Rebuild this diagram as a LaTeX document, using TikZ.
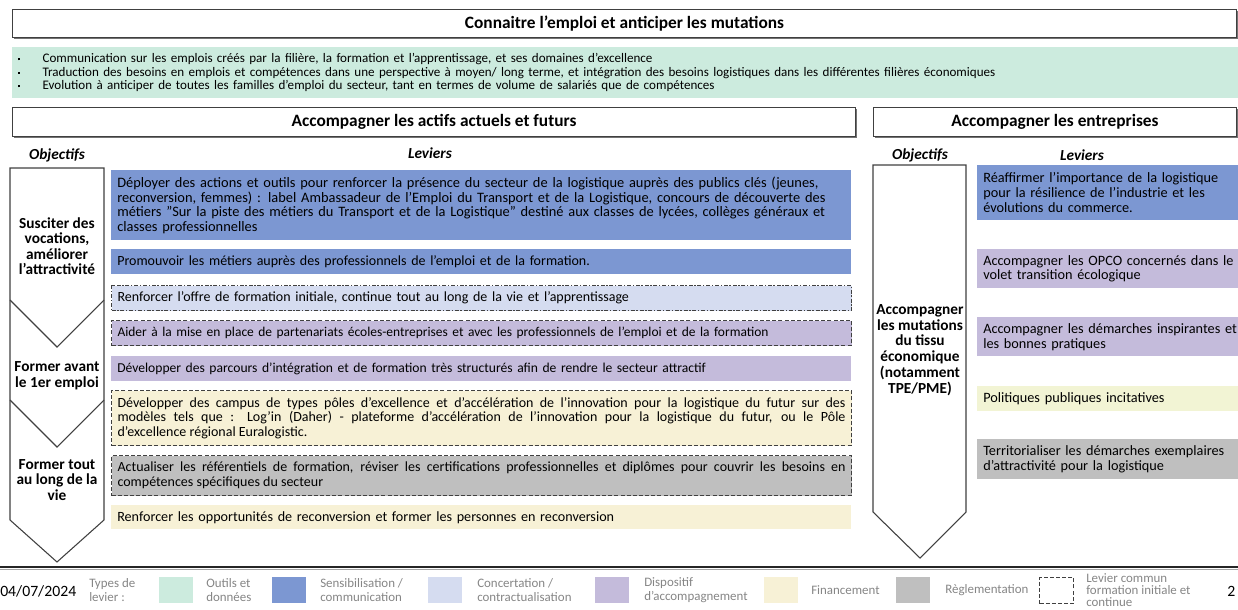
\documentclass[tikz,border=0pt]{standalone}
\usepackage{fontspec}
\setmainfont{Carlito}
\definecolor{cgreen}{HTML}{CCEBDE}
\definecolor{cblue}{HTML}{7C97D2}
\definecolor{clight}{HTML}{D5DCF0}
\definecolor{cpurple}{HTML}{C4BBDB}
\definecolor{cbeige}{HTML}{F7F1D6}
\definecolor{cbeigeb}{HTML}{F2F4D4}
\definecolor{cgrey}{HTML}{BFBFBF}
\definecolor{cline}{HTML}{404040}
\definecolor{clegtext}{HTML}{858585}
\begin{document}
\begin{tikzpicture}[x=0.75pt,y=-0.75pt,
  hdr/.style={draw=cline, line width=0.8pt, fill=white, inner sep=0pt, anchor=north west,
    font=\fontsize{13}{15}\selectfont\bfseries},
  shadowbox/.style={fill=black!55},
  lever/.style={anchor=north west, inner xsep=4.5pt, inner ysep=0pt, text width=546pt,
    minimum width=555pt, align=left, font=\fontsize{10.5}{11}\selectfont},
  rlever/.style={anchor=north west, inner xsep=4.5pt, inner ysep=0pt, text width=205pt,
    align=left, font=\fontsize{10.7}{11.2}\selectfont},
  dashbox/.style={draw=cline, line width=0.8pt, dash pattern=on 3pt off 1.6pt},
  dotdashbox/.style={draw=cline, line width=0.8pt, dash pattern=on 3pt off 1.3pt on 1pt off 1.3pt},
  objtext/.style={align=center, font=\fontsize{11.5}{11.6}\selectfont\bfseries, inner sep=0pt},
  colhead/.style={font=\fontsize{11.5}{13}\selectfont\bfseries\itshape, inner sep=0pt},
  chev/.style={draw=cline, line width=0.8pt},
  swatch/.style={anchor=north west, minimum width=25.5pt, minimum height=19.5pt, inner sep=0pt},
  legtext/.style={anchor=west, align=left, text=clegtext, inner sep=0pt,
    font=\fontsize{9.7}{10.5}\selectfont}
  ]
\useasboundingbox (0,0) rectangle (1238,610);

% ---- Title
\fill[shadowbox] (14,11) rectangle (1238,39);
\node[hdr, minimum width=918pt, minimum height=21pt] (title) at (12,9)
  {Connaitre l’emploi et anticiper les mutations};

% ---- Green band
\node[anchor=north west, fill=cgreen, minimum width=920pt, minimum height=38.25pt,
  text width=912pt, inner xsep=3.75pt, inner ysep=0pt, align=left,
  font=\fontsize{9.8}{10.1}\selectfont] (band) at (12,47)
  {\makebox[18.75pt][l]{\raisebox{1.9pt}{\rule{1.7pt}{1.7pt}}}Communication sur les emplois créés par la filière, la formation et l’apprentissage, et ses domaines d’excellence\\
   \makebox[18.75pt][l]{\raisebox{1.9pt}{\rule{1.7pt}{1.7pt}}}Traduction des besoins en emplois et compétences dans une perspective à moyen/ long terme, et intégration des besoins logistiques dans les différentes filières économiques\\
   \makebox[18.75pt][l]{\raisebox{1.9pt}{\rule{1.7pt}{1.7pt}}}Evolution à anticiper de toutes les familles d’emploi du secteur, tant en termes de volume de salariés que de compétences};

% ---- Section headers
\fill[shadowbox] (14,109) rectangle (857,138);
\node[hdr, minimum width=632.25pt, minimum height=21.75pt] (actifs) at (12,107)
  {Accompagner les actifs actuels et futurs};
\fill[shadowbox] (875,109) rectangle (1238,138);
\node[hdr, minimum width=272.25pt, minimum height=21.75pt] (entr) at (873,107)
  {Accompagner les entreprises};

% ---- Column headings
\node[colhead] (objL) at (57,155) {Objectifs};
\node[colhead] (levL) at (430,153) {Leviers};
\node[colhead] (objR) at (920,155) {Objectifs};
\node[colhead] (levR) at (1082,155) {Leviers};

% ---- Left chevrons
\draw[chev, fill=white] (10,168) -- (104,168) -- (104,520) -- (57,562) -- (10,520) -- cycle;
\draw[chev] (10,300) -- (57,347) -- (104,300);
\draw[chev] (10,400) -- (57,447) -- (104,400);
\node[objtext] (o1) at (57,246) {Susciter des\\vocations,\\améliorer\\l’attractivité};
\node[objtext] (o2) at (57,375.5) {Former avant\\le 1er emploi};
\node[objtext] (o3) at (57,480) {Former tout\\au long de la\\vie};

% ---- Left levers
\node[lever, fill=cblue, minimum height=52.5pt, font=\fontsize{10.8}{11}\selectfont] (l1) at (111,170)
  {Déployer des actions et outils pour renforcer la présence du secteur de la logistique auprès des publics clés (jeunes,\\
   reconversion, femmes) : label Ambassadeur de l’Emploi du Transport et de la Logistique, concours de découverte des\\
   métiers "Sur la piste des métiers du Transport et de la Logistique" destiné aux classes de lycées, collèges généraux et\\
   classes professionnelles};
\node[lever, fill=cblue, minimum height=18.75pt] (l2) at (111,249)
  {Promouvoir les métiers auprès des professionnels de l’emploi et de la formation.};
\node[lever, fill=clight, dotdashbox, minimum height=18.75pt] (l3) at (111,285)
  {Renforcer l’offre de formation initiale, continue tout au long de la vie et l’apprentissage};
\node[lever, fill=cpurple, dashbox, minimum height=18.75pt, font=\fontsize{10.1}{11}\selectfont] (l4) at (111,320)
  {Aider à la mise en place de partenariats écoles-entreprises et avec les professionnels de l’emploi et de la formation};
\node[lever, fill=cpurple, minimum height=18.75pt, font=\fontsize{10.2}{11}\selectfont] (l5) at (111,356)
  {Développer des parcours d’intégration et de formation très structurés afin de rendre le secteur attractif};
\node[lever, fill=cbeige, dashbox, minimum height=41.25pt, align=justify] (l6) at (111,390)
  {Développer des campus de types pôles d’excellence et d’accélération de l’innovation pour la logistique du futur sur des\linebreak
   modèles tels que : Log’in (Daher) - plateforme d’accélération de l’innovation pour la logistique du futur, ou le Pôle\linebreak
   d’excellence régional Euralogistic.};
\node[lever, fill=cgrey, dashbox, minimum height=30pt, align=justify] (l7) at (111,455)
  {Actualiser les référentiels de formation, réviser les certifications professionnelles et diplômes pour couvrir les besoins en\linebreak
   compétences spécifiques du secteur};
\node[lever, fill=cbeige, minimum height=18pt, font=\fontsize{10.6}{11}\selectfont] (l8) at (111,505)
  {Renforcer les opportunités de reconversion et former les personnes en reconversion};

% ---- Right chevron
\draw[chev, fill=white] (873,165) -- (966,165) -- (966,512) -- (920,558) -- (873,512) -- cycle;
\node[objtext, font=\fontsize{11.5}{11.8}\selectfont\bfseries] (o4) at (920,350)
  {Accompagner\\les mutations\\du tissu\\économique\\(notamment\\TPE/PME)};

% ---- Right levers
\node[rlever, fill=cblue, minimum height=41.25pt] (r1) at (977,165)
  {Réaffirmer l’importance de la logistique\\pour la résilience de l’industrie et les\\évolutions du commerce.};
\node[rlever, fill=cpurple, minimum height=29.25pt] (r2) at (977,249)
  {Accompagner les OPCO concernés dans le\\volet transition écologique};
\node[rlever, fill=cpurple, minimum height=29.25pt] (r3) at (977,317)
  {Accompagner les démarches inspirantes et\\les bonnes pratiques};
\node[rlever, fill=cbeigeb, minimum height=18.75pt] (r4) at (977,386)
  {Politiques publiques incitatives};
\node[rlever, fill=cgrey, minimum height=30pt] (r5) at (977,439)
  {Territorialiser les démarches exemplaires\\d’attractivité pour la logistique};

% ---- Footer line
\draw[line width=1.6pt, black!85] (0,567) -- (1238,567);
\draw[line width=0.6pt, black!35] (0,569.5) -- (1238,569.5);

% ---- Legend
\node[anchor=west, inner sep=0pt, font=\fontsize{11.8}{13}\selectfont] (date) at (0,591) {04/07/2024};
\node[legtext] (types) at (89,590) {Types de\\levier :};
\node[swatch, fill=cgreen] (s1) at (159,577) {};
\node[legtext] (t1) at (206,590) {Outils et\\données};
\node[swatch, fill=cblue] (s2) at (272,577) {};
\node[legtext] (t2) at (320,590) {Sensibilisation /\\communication};
\node[swatch, fill=clight] (s3) at (428,577) {};
\node[legtext] (t3) at (477,590) {Concertation /\\contractualisation};
\node[swatch, fill=cpurple] (s4) at (595,577) {};
\node[legtext] (t4) at (644,590) {Dispositif\\d’accompagnement};
\node[swatch, fill=cbeige] (s5) at (764,577) {};
\node[legtext] (t5) at (811,590) {Financement};
\node[swatch, fill=cgrey] (s6) at (896,577) {};
\node[legtext] (t6) at (945,590) {Règlementation};
\node[swatch, dashbox] (s7) at (1039,577) {};
\node[legtext, font=\fontsize{9.7}{9.3}\selectfont] (t7) at (1086,590) {Levier commun\\formation initiale et\\continue};
\node[anchor=west, inner sep=0pt, font=\fontsize{11.8}{13}\selectfont] (page) at (1227,591) {2};
\end{tikzpicture}
\end{document}
